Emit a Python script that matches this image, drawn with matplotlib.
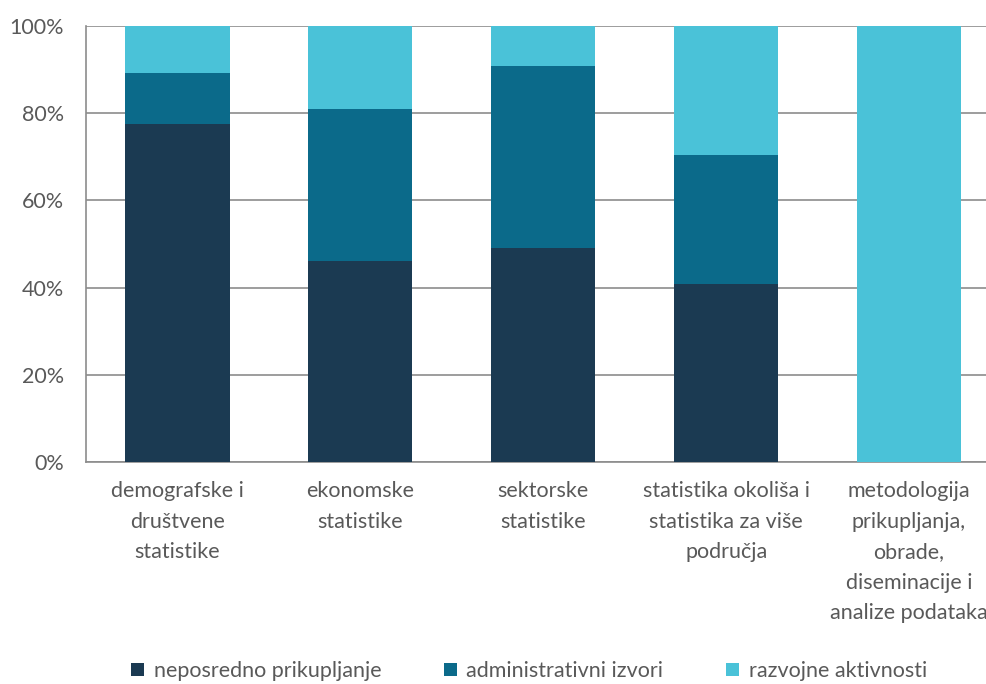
import matplotlib.pyplot as plt
import numpy as np
from matplotlib.ticker import FuncFormatter

categories = [
    "demografske i\ndruštvene\nstatistike",
    "ekonomske\nstatistike",
    "sektorske\nstatistike",
    "statistika okoliša i\nstatistika za više\npodručja",
    "metodologija\nprikupljanja,\nobrade,\ndiseminacije i\nanalize podataka",
]
series_names = ["neposredno prikupljanje", "administrativni izvori", "razvojne aktivnosti"]
neposredno = [77.5, 46.1, 49.1, 40.8, 0.0]
administrativni = [11.7, 34.9, 41.7, 29.6, 0.0]
razvojne = [10.8, 19.0, 9.2, 29.6, 100.0]

colors = ["#1B3A52", "#0B6A8A", "#4AC2D8"]
grey = "#595959"

plt.rcParams['font.family'] = ['Lato', 'DejaVu Sans']

fig = plt.figure(figsize=(9.87, 6.84), dpi=100)
W, H = 987, 684
# axes runs past the right edge like in the reference
ax = fig.add_axes([86 / W, 222 / H, (1000.5 - 86) / W, 436 / H])

x = np.arange(len(categories))
bottom = np.zeros(len(categories))
for vals, name, c in zip([neposredno, administrativni, razvojne], series_names, colors):
    ax.bar(x, vals, 0.57, bottom=bottom, color=c, label=name, zorder=3)
    bottom += np.array(vals)

ax.set_xlim(-0.5, len(categories) - 0.5)
ax.set_ylim(0, 100)
ax.set_yticks([0, 20, 40, 60, 80, 100])
ax.yaxis.set_major_formatter(FuncFormatter(lambda v, p: f"{v:.0f}%"))
ax.grid(axis='y', color='#8c8c8c', lw=1.2, zorder=0)
ax.set_xticks(x)
ax.set_xticklabels(categories, fontsize=15.5, color=grey, linespacing=1.65)
ax.tick_params(axis='x', length=0, pad=14)
ax.tick_params(axis='y', length=0, pad=16, labelsize=15.5, labelcolor=grey)
for s in ['top', 'right']:
    ax.spines[s].set_visible(False)
for s in ['left', 'bottom']:
    ax.spines[s].set_color('#8c8c8c')
    ax.spines[s].set_linewidth(1.2)

fig.legend(loc='center', bbox_to_anchor=(529 / W, 1 - 671 / H), ncol=3, frameon=False,
           fontsize=15.5, labelcolor=grey, handlelength=0.6, handleheight=0.6,
           handletextpad=0.45, columnspacing=2.9)

fig.savefig("out.png", dpi=100)
